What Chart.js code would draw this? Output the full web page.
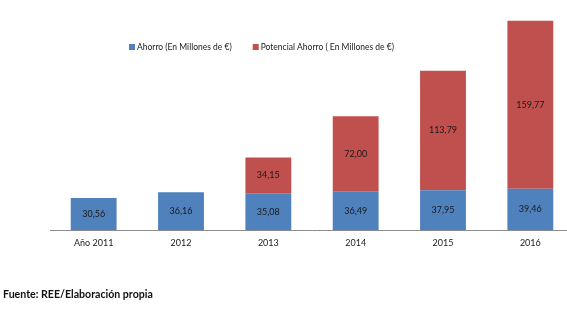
<!DOCTYPE html>
<html>
<head>
<meta charset="utf-8">
<script src="https://cdn.jsdelivr.net/npm/chart.js@4.4.1/dist/chart.umd.min.js"></script>
<style>
  html, body { margin: 0; padding: 0; background: #fff; overflow: hidden; }
  #wrap { position: relative; width: 567px; height: 322px; overflow: hidden; }
  #chart { position: absolute; left: 0; top: 0; }
  #fuente {
    position: absolute; left: 3px; top: 288px;
    font: bold 10.6px Lato, "Liberation Sans", sans-serif; color: #111;
  }
</style>
</head>
<body>
<div id="wrap">
  <canvas id="chart" width="574" height="322"></canvas>
  <div id="fuente">Fuente: REE/Elaboración propia</div>
</div>
<script>
// datos
const years = ['Año 2011', '2012', '2013', '2014', '2015', '2016'];
const ahorro = [30.56, 36.16, 35.08, 36.49, 37.95, 39.46];
const potencial = [null, null, 34.15, 72.00, 113.79, 159.77];
const seriesNames = ['Ahorro (En Millones de €)', 'Potencial Ahorro ( En Millones de €)'];

const fmt = v => v.toFixed(2).replace('.', ',');

// etiquetas centradas en cada segmento
const barLabels = {
  id: 'barLabels',
  afterDatasetsDraw(chart) {
    const ctx = chart.ctx;
    ctx.save();
    ctx.font = '9px Lato, sans-serif';
    ctx.fillStyle = '#1a1a1a';
    ctx.textAlign = 'center';
    ctx.textBaseline = 'middle';
    chart.data.datasets.forEach((ds, i) => {
      chart.getDatasetMeta(i).data.forEach((bar, j) => {
        const v = ds.data[j];
        if (v == null) return;
        const p = bar.getProps(['x', 'y', 'base'], true);
        ctx.fillText(fmt(v), p.x, (p.y + p.base) / 2);
      });
    });
    ctx.restore();
  }
};

// leyenda dibujada a mano, dentro del area del grafico
const legendInside = {
  id: 'legendInside',
  afterDraw(chart) {
    const ctx = chart.ctx;
    ctx.save();
    ctx.font = '8.5px Lato, sans-serif';
    ctx.textBaseline = 'middle';
    let x = 129;
    const y = 47;
    chart.data.datasets.forEach((ds, i) => {
      ctx.fillStyle = ds.backgroundColor;
      ctx.fillRect(x, y - 3, 6, 6);
      ctx.fillStyle = '#1a1a1a';
      ctx.fillText(ds.label, x + 8, y);
      x += 8 + ctx.measureText(ds.label).width + 21;
    });
    ctx.restore();
  }
};

new Chart(document.getElementById('chart'), {
  type: 'bar',
  data: {
    labels: years,
    datasets: [
      { label: seriesNames[0], data: ahorro, backgroundColor: '#4F81BD' },
      { label: seriesNames[1], data: potencial, backgroundColor: '#C0504D' }
    ]
  },
  options: {
    responsive: false,
    animation: false,
    layout: { padding: { left: 50, right: 0, top: 20, bottom: 67 } },
    datasets: { bar: { categoryPercentage: 1, barPercentage: 0.525 } },
    plugins: { legend: { display: false }, tooltip: { enabled: false } },
    scales: {
      x: {
        stacked: true,
        grid: { display: false, drawTicks: false },
        border: { display: true, color: '#8c8c8c', width: 1 },
        ticks: { color: '#1a1a1a', font: { family: 'Lato', size: 9 }, padding: 7 }
      },
      y: {
        stacked: true,
        display: false,
        min: 0,
        max: 200
      }
    }
  },
  plugins: [barLabels, legendInside]
});
</script>
</body>
</html>
